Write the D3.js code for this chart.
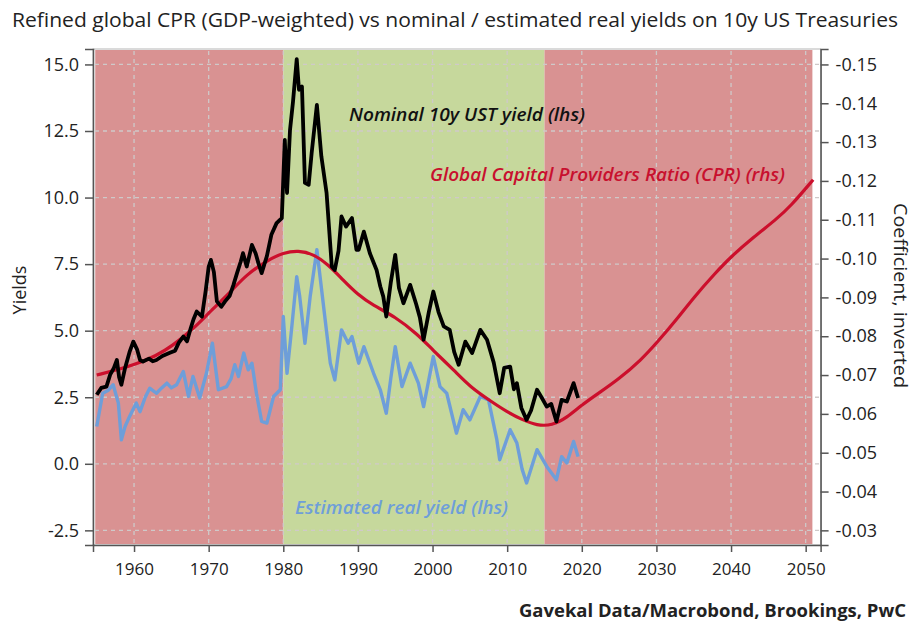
<!DOCTYPE html>
<html>
<head>
<meta charset="utf-8">
<script src="https://cdn.jsdelivr.net/npm/d3@7"></script>
<style>
  body { margin: 0; background: #fff; }
  svg { display: block; font-family: "Open Sans", sans-serif; }
</style>
</head>
<body>
<div id="content"></div>
<script>
// series
let nominalYears = [1955.0, 1955.6, 1956.3, 1956.8, 1957.3, 1957.7, 1958.0, 1958.3, 1958.8, 1959.4, 1959.9,
  1960.4, 1960.8, 1961.2, 1962.0, 1962.5, 1963.0, 1963.8, 1964.8, 1965.5, 1966.0, 1966.6, 1967.1, 1967.6,
  1968.0, 1968.4, 1969.1, 1969.6, 1970.0, 1970.3, 1970.7, 1971.1, 1971.7, 1972.2, 1972.8, 1973.3, 1973.8,
  1974.3, 1974.6, 1975.1, 1975.8, 1976.3, 1976.7, 1977.1, 1977.8, 1978.4, 1979.1, 1979.8, 1980.2, 1980.5,
  1980.9, 1981.3, 1981.8, 1982.1, 1982.5, 1982.9, 1983.4, 1983.8, 1984.5, 1985.1, 1985.8, 1986.5, 1986.9,
  1987.4, 1987.8, 1988.4, 1989.2, 1989.8, 1990.1, 1990.8, 1991.6, 1992.5, 1993.0, 1993.4, 1993.8, 1994.4,
  1995.0, 1995.5, 1996.1, 1997.0, 1997.8, 1998.3, 1998.8, 1999.5, 2000.1, 2000.8, 2001.5, 2002.3, 2002.9,
  2003.5, 2004.4, 2005.3, 2006.4, 2007.3, 2008.2, 2009.0, 2009.6, 2010.4, 2010.9, 2011.3, 2011.9, 2012.6,
  2013.2, 2014.0, 2014.6, 2015.3, 2015.9, 2016.6, 2017.3, 2018.0, 2018.9, 2019.5];
let nominalValues = [2.59, 2.85, 2.90, 3.35, 3.60, 3.90, 3.25, 2.97, 3.60, 4.20, 4.59,
  4.30, 3.90, 3.84, 3.95, 3.85, 3.90, 4.05, 4.17, 4.25, 4.55, 4.78, 4.60, 5.10,
  5.45, 5.72, 5.53, 6.50, 7.40, 7.66, 7.20, 6.10, 5.90, 6.10, 6.30, 6.70, 7.16,
  7.60, 7.91, 7.41, 8.22, 7.90, 7.50, 7.16, 7.80, 8.60, 9.04, 9.23, 12.17, 10.17,
  12.54, 13.60, 15.20, 14.05, 14.17, 10.55, 10.48, 11.67, 13.48, 11.55, 10.17, 7.41, 7.28,
  8.00, 9.29, 8.91, 9.23, 8.04, 8.04, 8.72, 7.91, 7.28, 6.66, 6.28, 5.53, 6.80,
  7.85, 6.60, 6.03, 6.72, 6.00, 5.50, 4.66, 5.70, 6.47, 5.70, 5.16, 5.03, 4.20,
  3.72, 4.59, 4.16, 5.03, 4.66, 3.80, 2.65, 3.60, 3.65, 2.80, 3.03, 2.10, 1.65,
  2.00, 2.78, 2.50, 2.15, 2.25, 1.59, 2.40, 2.34, 3.03, 2.47];

let realYears = [1955.0, 1955.8, 1956.5, 1957.2, 1957.9, 1958.3, 1958.8, 1959.4, 1960.3, 1960.8, 1961.5,
  1962.1, 1963.0, 1963.7, 1964.4, 1965.0, 1965.7, 1966.6, 1967.3, 1967.9, 1968.8, 1969.7, 1970.5, 1971.3,
  1972.4, 1973.0, 1973.5, 1974.0, 1974.7, 1975.3, 1975.8, 1976.4, 1977.1, 1977.8, 1978.7, 1979.6, 1980.0,
  1980.5, 1981.1, 1981.8, 1982.2, 1982.9, 1983.6, 1984.5, 1985.4, 1986.3, 1986.9, 1987.8, 1988.7, 1989.2,
  1990.1, 1990.8, 1992.1, 1993.0, 1993.8, 1994.4, 1995.0, 1995.9, 1997.0, 1998.1, 1998.8, 2000.1, 2001.0,
  2001.9, 2003.2, 2004.1, 2005.0, 2006.4, 2007.5, 2008.6, 2009.0, 2010.4, 2011.3, 2012.0, 2012.6, 2014.0,
  2015.3, 2016.6, 2017.3, 2018.0, 2018.9, 2019.5];
let realValues = [1.40, 2.65, 2.75, 2.97, 2.28, 0.90, 1.40, 1.78, 2.28, 1.96, 2.50,
  2.84, 2.65, 2.85, 3.03, 2.85, 2.97, 3.47, 2.53, 3.28, 2.47, 3.40, 4.53, 2.78,
  2.90, 3.20, 3.72, 3.28, 4.16, 3.53, 3.78, 2.65, 1.59, 1.53, 2.53, 2.78, 5.53,
  3.40, 5.03, 7.03, 6.28, 4.53, 6.28, 8.04, 5.91, 3.78, 3.15, 5.03, 4.53, 4.78,
  3.78, 4.40, 3.40, 2.78, 1.90, 3.20, 4.40, 2.90, 3.78, 3.03, 2.15, 4.03, 2.90,
  2.65, 1.15, 2.03, 1.65, 2.53, 2.40, 0.93, 0.15, 1.28, 0.78, -0.20, -0.72, 0.53,
  -0.10, -0.60, 0.27, 0.03, 0.84, 0.27];

let cprYears = [1955, 1958, 1960, 1963, 1965, 1968, 1970, 1973, 1975, 1978, 1980, 1982, 1984, 1986, 1988,
  1990, 1992, 1995, 1998, 2000, 2003, 2005, 2008, 2010, 2012, 2014, 2016, 2018, 2020, 2022, 2025, 2028,
  2030, 2033, 2035, 2038, 2040, 2043, 2046, 2048, 2051];
let cprValues = [-0.0700, -0.0715, -0.0726, -0.0750, -0.0773, -0.0820, -0.0860, -0.0915, -0.0958, -0.0997,
  -0.1015, -0.1021, -0.1012, -0.0985, -0.0945, -0.0907, -0.0880, -0.0850, -0.0805, -0.0765, -0.0710,
  -0.0670, -0.0630, -0.0605, -0.0585, -0.0570, -0.0570, -0.0590, -0.0623, -0.0650, -0.0690, -0.0740,
  -0.0782, -0.0850, -0.0900, -0.0965, -0.1005, -0.1055, -0.1100, -0.1135, -0.1203];

// shaded periods
let bandStarts = [1954.8, 1980, 2015];
let bandEnds = [1980, 2015, 2050.9];
let bandColors = ["#d99292", "#c6d89c", "#d99292"];

let leftTicks = [-2.5, 0, 2.5, 5, 7.5, 10, 12.5, 15];
let rightTicks = [-0.15, -0.14, -0.13, -0.12, -0.11, -0.10, -0.09, -0.08, -0.07, -0.06, -0.05, -0.04, -0.03];
let yearTicks = [1960, 1970, 1980, 1990, 2000, 2010, 2020, 2030, 2040, 2050];

let width = 914;
let height = 625;
let svg = d3.select("#content").append("svg")
  .attr("width", width)
  .attr("height", height);

let plotLeft = 93, plotRight = 820.6, plotTop = 49, plotBottom = 545;

let x = d3.scaleLinear().domain([1954.5, 2052]).range([plotLeft, plotRight]);
let yL = d3.scaleLinear().domain([-3.05, 15.58]).range([plotBottom, plotTop]);
// right axis: 15 on the left lines up with -0.15, -2.5 with -0.03
let toRight = v => -0.15 + (15 - v) * 0.12 / 17.5;
let yR = d3.scaleLinear().domain(yL.domain().map(toRight)).range([plotBottom, plotTop]);

// background bands
svg.selectAll("rect.band").data(bandStarts).enter().append("rect")
  .attr("class", "band")
  .attr("x", d => x(d))
  .attr("y", plotTop + 1)
  .attr("width", (d, i) => x(bandEnds[i]) - x(d))
  .attr("height", plotBottom - plotTop - 2)
  .style("fill", (d, i) => bandColors[i]);

// grid
let grid = svg.append("g").style("stroke", "#cfc9c9").style("stroke-width", 1.3).style("stroke-dasharray", "4,4");
grid.selectAll("line.h").data(leftTicks).enter().append("line")
  .attr("x1", plotLeft + 2).attr("x2", plotRight)
  .attr("y1", d => yL(d)).attr("y2", d => yL(d));
grid.selectAll("line.v").data(yearTicks).enter().append("line")
  .attr("x1", d => x(d)).attr("x2", d => x(d))
  .attr("y1", plotTop + 2).attr("y2", plotBottom);

// frame
svg.append("rect")
  .attr("x", plotLeft).attr("y", plotTop)
  .attr("width", plotRight - plotLeft).attr("height", plotBottom - plotTop)
  .style("fill", "none").style("stroke", "#b5b5b5").style("stroke-width", 1);

// lines
let lineL = d3.line().x(d => x(d[0])).y(d => yL(d[1]));
let lineR = d3.line().x(d => x(d[0])).y(d => yR(d[1])).curve(d3.curveBasis);

svg.append("path")
  .datum(realYears.map((yr, i) => [yr, realValues[i]]))
  .attr("d", lineL)
  .style("fill", "none").style("stroke", "#6e9ed9").style("stroke-width", 3.4)
  .style("stroke-linejoin", "round");

svg.append("path")
  .datum(cprYears.map((yr, i) => [yr, cprValues[i]]))
  .attr("d", lineR)
  .style("fill", "none").style("stroke", "#cc0f2c").style("stroke-width", 3.2)
  .style("stroke-linejoin", "round");

svg.append("path")
  .datum(nominalYears.map((yr, i) => [yr, nominalValues[i]]))
  .attr("d", lineL)
  .style("fill", "none").style("stroke", "#000").style("stroke-width", 3.8)
  .style("stroke-linejoin", "round");

// axes
let axisStyle = (g, size) => {
  g.select(".domain").style("stroke", "#555").style("stroke-width", 1.5);
  g.selectAll(".tick line").style("stroke", "#555").style("stroke-width", 1.5);
  g.selectAll(".tick text").style("fill", "#222").style("font-size", size)
    .style("font-family", "'Open Sans', sans-serif");
};

svg.append("g")
  .attr("transform", `translate(${plotLeft},0)`)
  .call(d3.axisLeft(yL).tickValues(leftTicks).tickFormat(d => d.toFixed(1)).tickSizeOuter(0).tickSize(8).tickPadding(6))
  .call(axisStyle, "18px");

svg.append("g")
  .attr("transform", `translate(${plotRight},0)`)
  .call(d3.axisRight(yR).tickValues(rightTicks).tickFormat(d => d.toFixed(2)).tickSizeOuter(0).tickSize(8).tickPadding(7))
  .call(axisStyle, "18px");

svg.append("g")
  .attr("transform", `translate(0,${plotBottom})`)
  .call(d3.axisBottom(x).tickValues(yearTicks).tickFormat(d3.format("d")).tickSizeOuter(0).tickSize(7).tickPadding(11))
  .call(axisStyle, "17px");

// titles
svg.append("text")
  .attr("x", 12).attr("y", 27)
  .attr("textLength", 886).attr("lengthAdjust", "spacingAndGlyphs")
  .style("font-size", "20px").style("fill", "#222")
  .text("Refined global CPR (GDP-weighted) vs nominal / estimated real yields on 10y US Treasuries");

svg.append("text")
  .attr("transform", "translate(26,290) rotate(-90)")
  .attr("text-anchor", "middle")
  .style("font-size", "18px").style("fill", "#222")
  .text("Yields");

svg.append("text")
  .attr("transform", "translate(894,203) rotate(90)")
  .attr("textLength", 185).attr("lengthAdjust", "spacingAndGlyphs")
  .style("font-size", "19px").style("fill", "#222")
  .text("Coefficient, inverted");

svg.append("text")
  .attr("x", 519).attr("y", 617)
  .attr("textLength", 387).attr("lengthAdjust", "spacingAndGlyphs")
  .style("font-size", "18px").style("font-weight", "bold").style("fill", "#222")
  .text("Gavekal Data/Macrobond, Brookings, PwC");

// series labels
let labels = [
  {t: "Nominal 10y UST yield (lhs)", x: 349, y: 121, w: 236, c: "#111"},
  {t: "Global Capital Providers Ratio (CPR) (rhs)", x: 430, y: 181, w: 355, c: "#c8102e"},
  {t: "Estimated real yield (lhs)", x: 295, y: 514, w: 213, c: "#6e9ed9"}
];
svg.selectAll("text.lab").data(labels).enter().append("text")
  .attr("class", "lab")
  .attr("x", d => d.x).attr("y", d => d.y)
  .attr("textLength", d => d.w).attr("lengthAdjust", "spacingAndGlyphs")
  .style("font-size", "18px").style("font-style", "italic").style("font-weight", 600)
  .style("fill", d => d.c)
  .text(d => d.t);
</script>
</body>
</html>
